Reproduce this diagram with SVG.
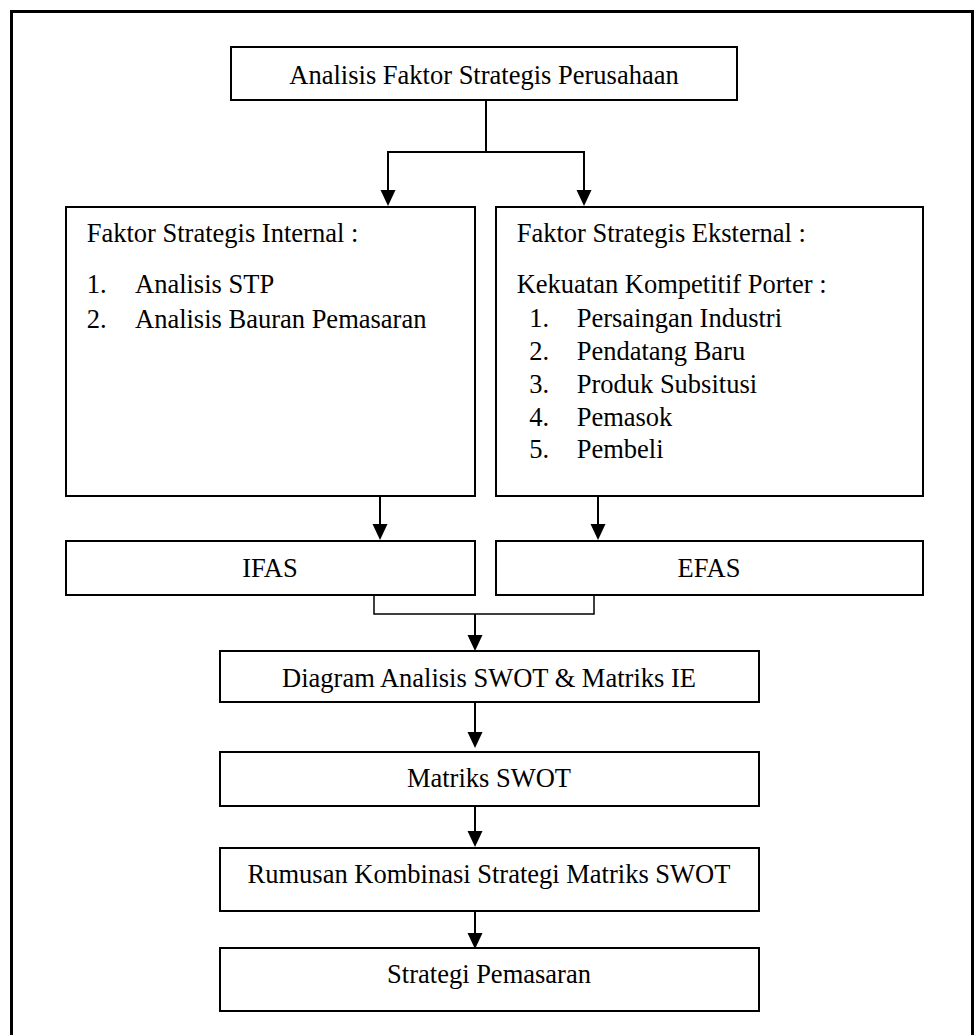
<svg xmlns="http://www.w3.org/2000/svg" width="977" height="1035" viewBox="0 0 977 1035">
<style>
text{font-family:"Liberation Serif","Times New Roman",serif;font-size:26.5px;fill:#000}
.c{text-anchor:middle}
.box{fill:#fff;stroke:#000;stroke-width:2}
.ln{fill:none;stroke:#000;stroke-width:2}
.thin{fill:none;stroke:#000;stroke-width:1.5}
</style>
<defs>
<marker id="ah" markerUnits="userSpaceOnUse" markerWidth="16" markerHeight="16" viewBox="0 0 16 16" refX="8" refY="15" orient="auto-start-reverse">
<path d="M0,0 L16,0 L8,16 Z" fill="#000" transform="rotate(0)"/>
</marker>
</defs>
<rect x="0" y="0" width="977" height="1035" fill="#fff"/>
<rect x="11.5" y="11.5" width="961" height="1100" fill="none" stroke="#000" stroke-width="3"/>
<g id="connectors">
<path class="ln" d="M486,100 V152"/>
<path class="ln" d="M387,152 H585"/>
<path d="M388,152 V190" class="ln"/><path d="M380.5,190 H395.5 L388,206 Z"/>
<path d="M584,152 V190" class="ln"/><path d="M576.5,190 H591.5 L584,206 Z"/>
<path d="M380,496 V524" class="ln"/><path d="M372.5,524 H387.5 L380,540 Z"/>
<path d="M598,496 V524" class="ln"/><path d="M590.5,524 H605.5 L598,540 Z"/>
<path class="thin" d="M374,595 V614 H594 V595"/>
<path d="M475,614 V635" class="ln"/><path d="M467.5,635 H482.5 L475,651 Z"/>
<path d="M475,702 V732" class="ln"/><path d="M467.5,732 H482.5 L475,748 Z"/>
<path d="M475,806 V831" class="ln"/><path d="M467.5,831 H482.5 L475,847 Z"/>
<path d="M475,911 V933" class="ln"/><path d="M467.5,933 H482.5 L475,949 Z"/>
</g>
<g id="n-top"><rect class="box" x="231" y="47" width="506" height="53"/><text class="c" x="484" y="84">Analisis Faktor Strategis Perusahaan</text></g>
<g id="n-internal"><rect class="box" x="66" y="207" width="409" height="289"/>
<text x="86.7" y="241.7">Faktor Strategis Internal :</text>
<text x="86.7" y="293.3">1.</text><text x="135" y="293.3">Analisis STP</text>
<text x="86.7" y="328.3">2.</text><text x="135" y="328.3">Analisis Bauran Pemasaran</text>
</g>
<g id="n-external"><rect class="box" x="496" y="207" width="427" height="289"/>
<text x="516.7" y="241.7">Faktor Strategis Eksternal :</text>
<text x="516.7" y="293.3">Kekuatan Kompetitif Porter :</text>
<text x="529.3" y="326.7">1.</text><text x="576.7" y="326.7">Persaingan Industri</text>
<text x="529.3" y="360">2.</text><text x="576.7" y="360">Pendatang Baru</text>
<text x="529.3" y="392.7">3.</text><text x="576.7" y="392.7">Produk Subsitusi</text>
<text x="529.3" y="426">4.</text><text x="576.7" y="426">Pemasok</text>
<text x="529.3" y="458.3">5.</text><text x="576.7" y="458.3">Pembeli</text>
</g>
<g id="n-ifas"><rect class="box" x="66" y="541" width="409" height="54"/><text class="c" x="270" y="577">IFAS</text></g>
<g id="n-efas"><rect class="box" x="496" y="541" width="427" height="54"/><text class="c" x="709" y="577">EFAS</text></g>
<g id="n-diagram"><rect class="box" x="220" y="651" width="539" height="51"/><text class="c" x="489" y="687">Diagram Analisis SWOT &amp; Matriks IE</text></g>
<g id="n-matriks"><rect class="box" x="220" y="752" width="539" height="54"/><text class="c" x="489" y="787">Matriks SWOT</text></g>
<g id="n-rumusan"><rect class="box" x="220" y="848" width="539" height="63"/><text class="c" x="489" y="883">Rumusan Kombinasi Strategi Matriks SWOT</text></g>
<g id="n-strategi"><rect class="box" x="220" y="948" width="539" height="63"/><text class="c" x="489" y="983">Strategi Pemasaran</text></g>
</svg>
